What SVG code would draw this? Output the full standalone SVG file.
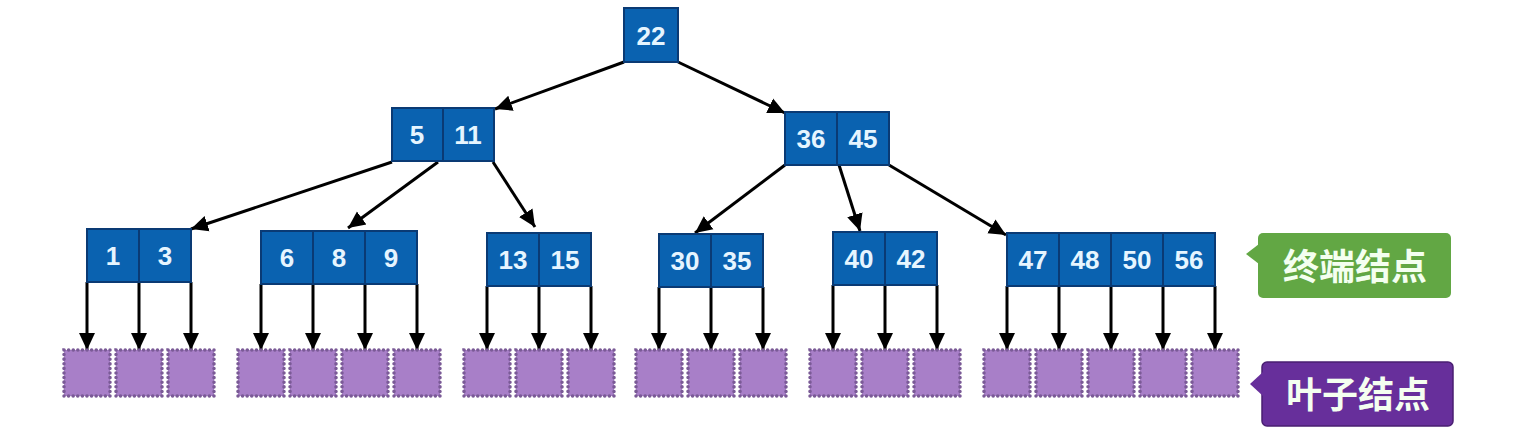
<svg xmlns="http://www.w3.org/2000/svg" width="1514" height="443" viewBox="0 0 1514 443">
<defs>
<marker id="ah" markerUnits="userSpaceOnUse" markerWidth="18" markerHeight="18" refX="17" refY="9" orient="auto">
<path d="M0,1 L17,9 L0,17 z" fill="#000"/>
</marker>
<style>
.k{fill:#0a62b0;stroke:#0a3a74;stroke-width:2}
.t{font-family:"Liberation Sans",Arial,sans-serif;font-size:26px;font-weight:bold;fill:#e6f5ff;text-anchor:middle}
.e{stroke:#000;stroke-width:3;fill:none;marker-end:url(#ah)}
.lf{fill:#a87fc8;stroke:#7a5a96;stroke-width:3.5;stroke-dasharray:0.1 4.5;stroke-linecap:round}
.lb{font-family:"Noto Sans CJK SC","Noto Sans",sans-serif;font-size:36px;font-weight:bold;fill:#f4fff0;text-anchor:middle}
</style>
</defs>
<rect width="1514" height="443" fill="#fff"/>

<g id="connectors">
<line class="e" x1="624" y1="62" x2="495" y2="109"/>
<line class="e" x1="678" y1="62" x2="785" y2="113"/>
<line class="e" x1="392" y1="162" x2="191" y2="229"/>
<line class="e" x1="438" y1="162" x2="348" y2="228"/>
<line class="e" x1="493" y1="162" x2="535" y2="227"/>
<line class="e" x1="785" y1="165" x2="695" y2="233"/>
<line class="e" x1="839" y1="165" x2="860" y2="231"/>
<line class="e" x1="889" y1="165" x2="1006" y2="235"/>
<line class="e" x1="87" y1="282" x2="87" y2="350"/>
<line class="e" x1="139" y1="282" x2="139" y2="350"/>
<line class="e" x1="191" y1="282" x2="191" y2="350"/>
<line class="e" x1="261" y1="284" x2="261" y2="350"/>
<line class="e" x1="313" y1="284" x2="313" y2="350"/>
<line class="e" x1="365" y1="284" x2="365" y2="350"/>
<line class="e" x1="417" y1="284" x2="417" y2="350"/>
<line class="e" x1="487" y1="286" x2="487" y2="350"/>
<line class="e" x1="539" y1="286" x2="539" y2="350"/>
<line class="e" x1="591" y1="286" x2="591" y2="350"/>
<line class="e" x1="659" y1="287" x2="659" y2="350"/>
<line class="e" x1="711" y1="287" x2="711" y2="350"/>
<line class="e" x1="763" y1="287" x2="763" y2="350"/>
<line class="e" x1="833" y1="285" x2="833" y2="350"/>
<line class="e" x1="885" y1="285" x2="885" y2="350"/>
<line class="e" x1="937" y1="285" x2="937" y2="350"/>
<line class="e" x1="1007" y1="286" x2="1007" y2="350"/>
<line class="e" x1="1059" y1="286" x2="1059" y2="350"/>
<line class="e" x1="1111" y1="286" x2="1111" y2="350"/>
<line class="e" x1="1163" y1="286" x2="1163" y2="350"/>
<line class="e" x1="1215" y1="286" x2="1215" y2="350"/>
</g>

<g id="n22">
<rect class="k" x="624" y="8" width="54" height="54"/>
<text class="t" x="651" y="45">22</text>
</g>
<g id="n5_11">
<rect class="k" x="392" y="108" width="51" height="53"/>
<rect class="k" x="443" y="108" width="51" height="53"/>
<text class="t" x="417" y="144">5</text>
<text class="t" x="468" y="144">11</text>
</g>
<g id="n36_45">
<rect class="k" x="785" y="112" width="52" height="53"/>
<rect class="k" x="837" y="112" width="52" height="53"/>
<text class="t" x="811" y="148">36</text>
<text class="t" x="863" y="148">45</text>
</g>
<g id="n1_3">
<rect class="k" x="87" y="229" width="52" height="53"/>
<rect class="k" x="139" y="229" width="52" height="53"/>
<text class="t" x="113" y="265">1</text>
<text class="t" x="165" y="265">3</text>
</g>
<g id="n6_8_9">
<rect class="k" x="261" y="231" width="52" height="53"/>
<rect class="k" x="313" y="231" width="52" height="53"/>
<rect class="k" x="365" y="231" width="52" height="53"/>
<text class="t" x="287" y="267">6</text>
<text class="t" x="339" y="267">8</text>
<text class="t" x="391" y="267">9</text>
</g>
<g id="n13_15">
<rect class="k" x="487" y="233" width="52" height="53"/>
<rect class="k" x="539" y="233" width="52" height="53"/>
<text class="t" x="513" y="269">13</text>
<text class="t" x="565" y="269">15</text>
</g>
<g id="n30_35">
<rect class="k" x="659" y="234" width="52" height="53"/>
<rect class="k" x="711" y="234" width="52" height="53"/>
<text class="t" x="685" y="270">30</text>
<text class="t" x="737" y="270">35</text>
</g>
<g id="n40_42">
<rect class="k" x="833" y="232" width="52" height="53"/>
<rect class="k" x="885" y="232" width="52" height="53"/>
<text class="t" x="859" y="268">40</text>
<text class="t" x="911" y="268">42</text>
</g>
<g id="n47_48_50_56">
<rect class="k" x="1007" y="233" width="52" height="53"/>
<rect class="k" x="1059" y="233" width="52" height="53"/>
<rect class="k" x="1111" y="233" width="52" height="53"/>
<rect class="k" x="1163" y="233" width="52" height="53"/>
<text class="t" x="1033" y="269">47</text>
<text class="t" x="1085" y="269">48</text>
<text class="t" x="1137" y="269">50</text>
<text class="t" x="1189" y="269">56</text>
</g>

<g id="leaves">
<rect class="lf" x="64" y="350" width="46" height="46"/>
<rect class="lf" x="116" y="350" width="46" height="46"/>
<rect class="lf" x="168" y="350" width="46" height="46"/>
<rect class="lf" x="238" y="350" width="46" height="46"/>
<rect class="lf" x="290" y="350" width="46" height="46"/>
<rect class="lf" x="342" y="350" width="46" height="46"/>
<rect class="lf" x="394" y="350" width="46" height="46"/>
<rect class="lf" x="464" y="350" width="46" height="46"/>
<rect class="lf" x="516" y="350" width="46" height="46"/>
<rect class="lf" x="568" y="350" width="46" height="46"/>
<rect class="lf" x="636" y="350" width="46" height="46"/>
<rect class="lf" x="688" y="350" width="46" height="46"/>
<rect class="lf" x="740" y="350" width="46" height="46"/>
<rect class="lf" x="810" y="350" width="46" height="46"/>
<rect class="lf" x="862" y="350" width="46" height="46"/>
<rect class="lf" x="914" y="350" width="46" height="46"/>
<rect class="lf" x="984" y="350" width="46" height="46"/>
<rect class="lf" x="1036" y="350" width="46" height="46"/>
<rect class="lf" x="1088" y="350" width="46" height="46"/>
<rect class="lf" x="1140" y="350" width="46" height="46"/>
<rect class="lf" x="1192" y="350" width="46" height="46"/>
</g>

<g id="label_terminal">
<rect x="1258" y="233" width="193" height="65" rx="5" fill="#62a744"/>
<polygon points="1259,244 1246,254 1259,264" fill="#62a744"/>
<text class="lb" x="1355" y="280">终端结点</text>
</g>
<g id="label_leaf">
<rect x="1262" y="362" width="191" height="64" rx="5" fill="#672f9b" stroke="#4a1f72" stroke-width="1.5"/>
<polygon points="1263,372 1250,384 1263,396" fill="#672f9b"/>
<text class="lb" x="1358" y="408">叶子结点</text>
</g>
</svg>
